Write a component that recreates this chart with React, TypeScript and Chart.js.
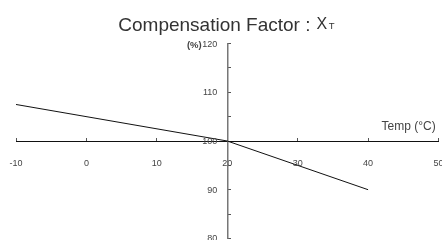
import { useEffect, useRef } from 'react';
import { Chart, registerables } from 'chart.js';

Chart.register(...registerables);

const temps = [-10, 20, 40];
const factors = [107.5, 100, 90];
const xMin = -10;
const xMax = 50;
const xStep = 10;
const yMin = 80;
const yMax = 120;
const yStep = 5;
const yLabelStep = 10;
const yUnit = '(%)';
const titleMain = 'Compensation Factor :';
const titleVar = 'X';
const titleSub = 'T';
const xAxisTitle = 'Temp (°C)';
const crossX = 20;
const crossY = 100;

const FONT = '"Liberation Sans", Arial, Helvetica, sans-serif';

const textPlugin = {
  id: 'customTexts',
  afterDraw(chart: any) {
    const ctx = chart.ctx;
    const area = chart.chartArea;
    const xs = chart.scales.x;
    const ys = chart.scales.y;
    ctx.save();
    // title
    ctx.fillStyle = '#333';
    ctx.textBaseline = 'alphabetic';
    ctx.textAlign = 'left';
    ctx.font = `19px ${FONT}`;
    const left = 118.3;
    ctx.fillText(titleMain, left, 30.6);
    const wMain = ctx.measureText(titleMain).width;
    ctx.font = `16px ${FONT}`;
    const xPos = left + wMain + 6;
    ctx.fillText(titleVar, xPos, 28.8);
    const wVar = ctx.measureText(titleVar).width;
    ctx.font = `9.5px ${FONT}`;
    ctx.fillText(titleSub, xPos + wVar + 1.5, 28.8);
    // y tick labels
    ctx.fillStyle = '#444';
    ctx.font = `9px ${FONT}`;
    ctx.textAlign = 'right';
    ctx.textBaseline = 'middle';
    const axisX = xs.getPixelForValue(crossX);
    ys.ticks.forEach((t: any) => {
      if (t.value % yLabelStep !== 0) return;
      const py = ys.getPixelForValue(t.value) + 0.5;
      const label = String(t.value);
      ctx.font = `9px ${FONT}`;
      ctx.fillText(label, axisX - 10, py);
      if (t.value === yMax) {
        const w = ctx.measureText(label).width;
        ctx.font = `bold 9.5px ${FONT}`;
        ctx.fillText(yUnit, axisX - 10 - w - 0.5, py + 1.5);
      }
    });
    // x axis title
    ctx.font = `12px ${FONT}`;
    ctx.textBaseline = 'alphabetic';
    ctx.fillText(xAxisTitle, area.right - 2.8, ys.getPixelForValue(crossY) - 11.3);
    ctx.restore();
  },
};

export default function App() {
  const ref = useRef<HTMLCanvasElement>(null);
  useEffect(() => {
    const chart = new Chart(ref.current!, {
      type: 'scatter',
      data: {
        datasets: [
          {
            data: temps.map((t, i) => ({ x: t, y: factors[i] })),
            showLine: true,
            borderColor: '#111',
            borderWidth: 1,
            pointRadius: 0,
            fill: false,
          },
        ],
      },
      options: {
        animation: false,
        responsive: true,
        maintainAspectRatio: false,
        layout: { autoPadding: false, padding: { left: 16, right: 3.5, top: 43.6, bottom: 1.6 } },
        plugins: { legend: { display: false }, title: { display: false }, tooltip: { enabled: false } },
        scales: {
          x: {
            type: 'linear',
            min: xMin,
            max: xMax,
            position: { y: crossY },
            afterFit: (s: any) => {
              s.height = 0;
              s.paddingLeft = 0;
              s.paddingRight = 0;
            },
            ticks: {
              stepSize: xStep,
              color: '#444',
              font: { size: 9, family: FONT },
              padding: 21,
              maxRotation: 0,
              autoSkip: false,
            },
            grid: { drawOnChartArea: false, drawTicks: true, tickLength: -4, color: '#555', lineWidth: 1 },
            border: { display: true, color: '#111', width: 1 },
          },
          y: {
            type: 'linear',
            min: yMin,
            max: yMax,
            position: { x: crossX },
            afterFit: (s: any) => {
              s.width = 0;
              s.paddingTop = 0;
              s.paddingBottom = 0;
            },
            ticks: {
              display: false,
              stepSize: yStep,
              autoSkip: false,
            },
            grid: { drawOnChartArea: false, drawTicks: true, tickLength: -4, color: '#555', lineWidth: 1 },
            border: { display: true, color: '#777', width: 1.5 },
          },
        },
      },
      plugins: [textPlugin],
    });
    return () => chart.destroy();
  }, []);
  return (
    <div style={{ position: 'fixed', left: 0, top: 0, width: 442, height: 240, background: '#fff' }}>
      <canvas ref={ref} />
    </div>
  );
}
